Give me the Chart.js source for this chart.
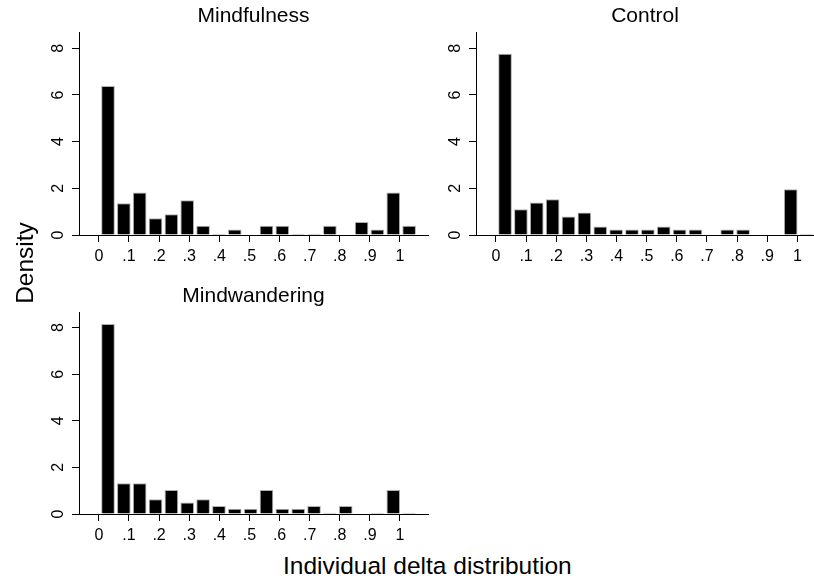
<!DOCTYPE html>
<html>
<head>
<meta charset="utf-8">
<script src="https://cdn.jsdelivr.net/npm/chart.js@4.4.1/dist/chart.umd.min.js"></script>
<style>
  html, body { margin: 0; padding: 0; background: #fff; overflow: hidden; }
  #page { position: relative; width: 814px; height: 580px; font-family: "Liberation Sans", Arial, sans-serif; }
  canvas { position: absolute; }
  .axis-title { position: absolute; font-size: 24.5px; line-height: 24px; color: #000; white-space: nowrap; }
  #y-title { left: -35px; top: 251px; width: 120px; text-align: center; transform: rotate(-90deg); }
  #x-title { left: 283px; top: 554px; }
</style>
</head>
<body>
<div id="page">
  <canvas id="mindfulness-chart" width="440" height="270" style="left:0;top:0"></canvas>
  <canvas id="control-chart" width="374" height="270" style="left:440px;top:0"></canvas>
  <canvas id="mindwandering-chart" width="440" height="270" style="left:0;top:280px"></canvas>
  <div class="axis-title" id="y-title">Density</div>
  <div class="axis-title" id="x-title">Individual delta distribution</div>
</div>
<script>
// bin midpoints of the histogram (x values)
const binMids = [0.0303, 0.0829, 0.1355, 0.1882, 0.2408, 0.2934, 0.3461, 0.3987, 0.4513, 0.5040,
                 0.5566, 0.6092, 0.6619, 0.7145, 0.7671, 0.8198, 0.8724, 0.9250, 0.9777, 1.0303];

// density per bin
const mindfulness   = [6.38, 1.36, 1.82, 0.72, 0.89, 1.49, 0.40, 0.05, 0.24, 0,
                       0.40, 0.40, 0.05, 0.05, 0.40, 0, 0.56, 0.24, 1.82, 0.40];
const control       = [7.77, 1.10, 1.39, 1.53, 0.79, 0.96, 0.36, 0.24, 0.24, 0.24,
                       0.36, 0.24, 0.24, 0, 0.24, 0.24, 0, 0, 1.96, 0.05];
const mindwandering = [8.15, 1.32, 1.32, 0.63, 1.03, 0.49, 0.63, 0.34, 0.22, 0.22,
                       1.03, 0.22, 0.22, 0.34, 0.05, 0.34, 0, 0.05, 1.03, 0.05];

const xTicks = [0, 0.1, 0.2, 0.3, 0.4, 0.5, 0.6, 0.7, 0.8, 0.9, 1];
const xTickLabels = ['0', '.1', '.2', '.3', '.4', '.5', '.6', '.7', '.8', '.9', '1'];
const yTicks = [0, 2, 4, 6, 8];
const yTickLabels = ['0', '2', '4', '6', '8'];

const fontFamily = '"Liberation Sans", Arial, sans-serif';

function makeHistogram(canvasId, title, values, opts) {
    return new Chart(document.getElementById(canvasId), {
        type: 'bar',
        data: {
            datasets: [{
                data: binMids.map((x, i) => ({ x: x, y: values[i] })),
                backgroundColor: '#000',
                borderColor: '#b0b0b0',
                borderWidth: 1,
                borderSkipped: 'bottom',
                barPercentage: 0.86,
                categoryPercentage: 1
            }]
        },
        options: {
            responsive: false,
            animation: false,
            layout: { padding: { left: 0, right: opts.padRight, top: 0, bottom: 0 } },
            plugins: {
                legend: { display: false },
                tooltip: { enabled: false },
                title: {
                    display: true,
                    text: title,
                    fullSize: false,
                    color: '#000',
                    font: { family: fontFamily, size: 21, weight: 'normal' },
                    padding: { top: 4, bottom: 3 }
                }
            },
            scales: {
                x: {
                    type: 'linear',
                    offset: false,
                    min: -0.066,
                    max: opts.xMax,
                    afterBuildTicks: s => { s.ticks = xTicks.map(v => ({ value: v })); },
                    afterFit: s => { s.height = opts.xAxisHeight; },
                    ticks: {
                        callback: (v, i) => xTickLabels[i],
                        color: '#000',
                        font: { family: fontFamily, size: 16 },
                        padding: 5,
                        autoSkip: false,
                        minRotation: 0,
                        maxRotation: 0
                    },
                    grid: { offset: false, drawOnChartArea: false, tickLength: 7, color: '#000' },
                    border: { color: '#000' }
                },
                y: {
                    min: 0,
                    max: opts.yMax,
                    afterBuildTicks: s => { s.ticks = yTicks.map(v => ({ value: v })); },
                    afterFit: s => { s.width = opts.yAxisWidth; },
                    ticks: {
                        callback: (v, i) => yTickLabels[i],
                        color: '#000',
                        font: { family: fontFamily, size: 16 },
                        minRotation: 90,
                        maxRotation: 90,
                        crossAlign: 'center',
                        padding: 9
                    },
                    grid: { drawOnChartArea: false, tickLength: 7, color: '#000' },
                    border: { color: '#000' }
                }
            }
        }
    });
}

makeHistogram('mindfulness-chart', 'Mindfulness', mindfulness,
    { xMax: 1.093, yMax: 8.69, yAxisWidth: 79, xAxisHeight: 35, padRight: 12 });
makeHistogram('control-chart', 'Control', control,
    { xMax: 1.055, yMax: 8.69, yAxisWidth: 36, xAxisHeight: 35, padRight: 0 });
makeHistogram('mindwandering-chart', 'Mindwandering', mindwandering,
    { xMax: 1.093, yMax: 8.66, yAxisWidth: 79, xAxisHeight: 36, padRight: 12 });
</script>
</body>
</html>
